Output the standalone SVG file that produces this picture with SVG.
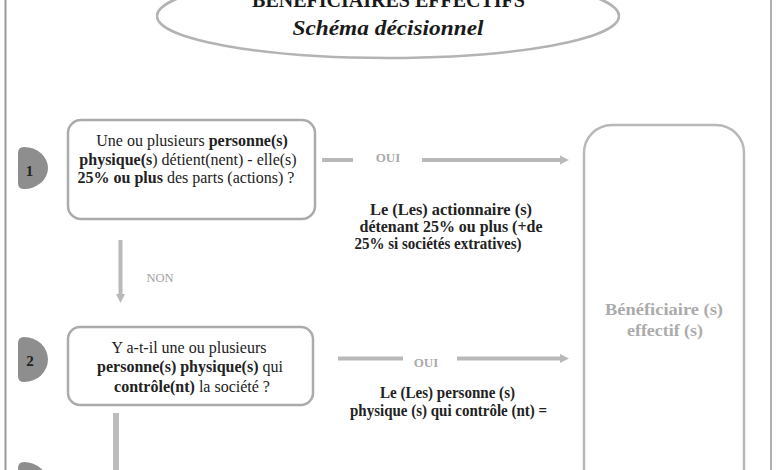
<svg xmlns="http://www.w3.org/2000/svg" width="780" height="470" viewBox="0 0 780 470" font-family="'Liberation Serif','Times New Roman','DejaVu Serif',serif">
<style>
.frame{stroke:#9a9a9a;stroke-width:2;fill:none}
.frame2{stroke:#b0b0b0;stroke-width:2;fill:none}
.box{fill:#fff;stroke:#ababab;stroke-width:2.5}
.bigbox{fill:#fff;stroke:#b8b8b8;stroke-width:2.5}
.badge{fill:#8e8e8e}
text{font-family:'Liberation Serif','Times New Roman','DejaVu Serif',serif}
.num{font-weight:bold;font-size:15px;fill:#222;text-anchor:middle}
.q{font-size:16px;fill:#222;text-anchor:middle}
.b{font-weight:bold}
.res{font-weight:bold;font-size:16px;fill:#222;text-anchor:middle}
.ben{font-weight:bold;font-size:17px;fill:#ababab;text-anchor:middle}
.lbl{font-weight:bold;font-size:13px;fill:#ababab;text-anchor:middle}
.non{font-size:12.5px;fill:#a0a0a0;text-anchor:middle}
.conn{stroke:#b9b9b9;stroke-width:4;fill:none}
.conn6{stroke:#bcbcbc;stroke-width:6;fill:none}
.title{font-weight:bold;fill:#1a1a1a;text-anchor:middle}
</style>
<defs>
<marker id="ah" markerUnits="userSpaceOnUse" markerWidth="10" markerHeight="10" refX="1" refY="5" orient="auto">
<path d="M0,0.5 L9,5 L0,9.5 z" fill="#b9b9b9"/>
</marker>
</defs>
<rect width="780" height="470" fill="#fff"/>
<line class="frame" x1="5.5" y1="0" x2="5.5" y2="470"/>
<line class="frame2" x1="771" y1="0" x2="771" y2="470"/>

<g id="title">
<ellipse cx="388" cy="16" rx="231" ry="42" fill="#fff" stroke="#b3b3b3" stroke-width="2.5"/>
<text class="title" x="388.5" y="7" font-size="20">BÉNÉFICIAIRES EFFECTIFS</text>
<text class="title" x="388" y="35" font-size="22" font-style="italic" textLength="191" lengthAdjust="spacingAndGlyphs">Schéma décisionnel</text>
</g>

<g id="connectors">
<line class="conn" x1="322" y1="160" x2="353" y2="160"/>
<line class="conn" x1="422" y1="160" x2="561" y2="160" marker-end="url(#ah)"/>
<text class="lbl" x="388" y="162">OUI</text>
<line class="conn" x1="120.5" y1="240" x2="120.5" y2="295" marker-end="url(#ah)"/>
<text class="non" x="160" y="282">NON</text>
<line class="conn" x1="338" y1="358.5" x2="403" y2="358.5"/>
<line class="conn" x1="457" y1="358.5" x2="561" y2="358.5" marker-end="url(#ah)"/>
<text class="lbl" x="426" y="367">OUI</text>
<line class="conn6" x1="116" y1="413" x2="116" y2="470"/>
</g>

<g id="step1">
<path class="badge" d="M18,153 Q18,147 24,147 A24,21 0 0 1 24,189 Q18,189 18,183 Z"/>
<text class="num" x="29.5" y="176">1</text>
</g>
<g id="q1">
<rect class="box" x="68" y="120" width="247" height="99" rx="13"/>
<text class="q" x="192" y="146">Une ou plusieurs <tspan class="b">personne(s)</tspan></text>
<text class="q" x="188" y="165"><tspan class="b">physique(s</tspan>) détient(nent) - elle(s)</text>
<text class="q" x="186" y="183"><tspan class="b">25% ou plus</tspan> des parts (actions) ?</text>
</g>
<g id="r1">
<text class="res" x="451" y="215" textLength="162" lengthAdjust="spacingAndGlyphs">Le (Les) actionnaire (s)</text>
<text class="res" x="451" y="232" textLength="183" lengthAdjust="spacingAndGlyphs">détenant 25% ou plus  (+de</text>
<text class="res" x="438" y="249" textLength="167" lengthAdjust="spacingAndGlyphs">25% si sociétés extratives)</text>
</g>

<g id="step2">
<path class="badge" d="M18,343 Q18,337 24,337 A24,22.5 0 0 1 24,382 Q18,382 18,376 Z"/>
<text class="num" x="30" y="366">2</text>
</g>
<g id="q2">
<rect class="box" x="68" y="327" width="245" height="78" rx="12"/>
<text class="q" x="189" y="353">Y a-t-il une ou plusieurs</text>
<text class="q" x="190" y="372"><tspan class="b">personne(s) physique(s)</tspan> qui</text>
<text class="q" x="192" y="392"><tspan class="b">contrôle(nt)</tspan> la société ?</text>
</g>
<g id="r2">
<text class="res" x="447.5" y="398" textLength="135" lengthAdjust="spacingAndGlyphs">Le (Les) personne (s)</text>
<text class="res" x="448.5" y="416" textLength="197" lengthAdjust="spacingAndGlyphs">physique (s) qui contrôle (nt) =</text>
</g>

<g id="step3">
<path class="badge" d="M18,468 Q18,462 24,462 A24,22 0 0 1 24,506 Q18,506 18,500 Z"/>
</g>

<g id="beneficiaires">
<rect class="bigbox" x="584" y="125" width="160" height="380" rx="28"/>
<text class="ben" x="664" y="315" textLength="118" lengthAdjust="spacingAndGlyphs">Bénéficiaire (s)</text>
<text class="ben" x="665" y="336" textLength="76" lengthAdjust="spacingAndGlyphs">effectif (s)</text>
</g>
</svg>
